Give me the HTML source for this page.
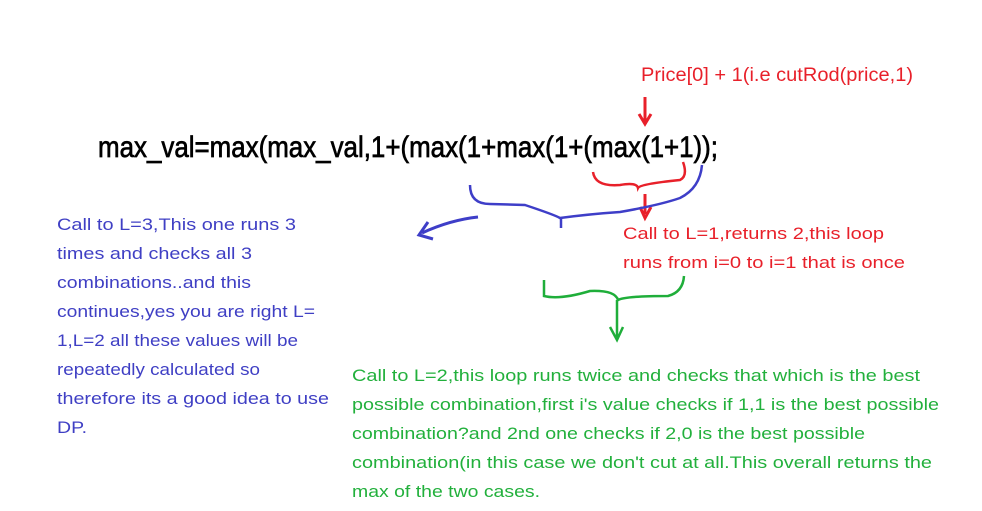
<!DOCTYPE html>
<html><head><meta charset="utf-8"><style>body{margin:0;background:#fff}svg{display:block}</style></head>
<body>
<svg width="982" height="511" viewBox="0 0 982 511" xmlns="http://www.w3.org/2000/svg" font-family="Liberation Sans, sans-serif">
<rect width="982" height="511" fill="#fff"/>
<text x="641" y="81" font-size="19" fill="#e8202a" textLength="272" lengthAdjust="spacingAndGlyphs">Price[0] + 1(i.e cutRod(price,1)</text>
<text x="98" y="157" font-size="30" fill="#000" stroke="#000" stroke-width="0.7" textLength="620" lengthAdjust="spacingAndGlyphs">max_val=max(max_val,1+(max(1+max(1+(max(1+1));</text>
<path d="M645 97 L645 122 M639 114 L645 124 L651 114" stroke="#e8202a" stroke-width="3" fill="none"/>
<path d="M593 172 Q595 187 620 185 Q637 182 638 188 Q640 184 680 180 Q688 176 683 162" stroke="#e8202a" stroke-width="2.5" fill="none"/>
<path d="M645 194 L645 214 M640 207 L645 218 L651 207" stroke="#e8202a" stroke-width="3" fill="none"/>
<path d="M470 185 Q470 204 490 204 L525 205 Q555 215 560 218 Q590 214 620 212 Q660 205 680 198 Q700 188 702 165" stroke="#3e3ec8" stroke-width="2.5" fill="none"/>
<path d="M561 218 L561 228" stroke="#3e3ec8" stroke-width="2.5"/>
<path d="M478 217 Q450 220 422 233 M428 222 L419 235 L433 239" stroke="#3e3ec8" stroke-width="3" fill="none"/>
<path d="M544 280 L544 296 Q560 300 590 291 Q615 290 618 300 Q625 296 668 296 Q683 292 684 276" stroke="#1fae3a" stroke-width="2.5" fill="none"/>
<path d="M617 300 L617 337 M610 327 L617 340 L623 327" stroke="#1fae3a" stroke-width="2.5" fill="none"/>
<g font-size="17" fill="#3f3fc4">
<text x="57" y="230" textLength="239" lengthAdjust="spacingAndGlyphs">Call to L=3,This one runs 3</text>
<text x="57" y="259" textLength="195" lengthAdjust="spacingAndGlyphs">times and checks all 3</text>
<text x="57" y="288" textLength="194" lengthAdjust="spacingAndGlyphs">combinations..and this</text>
<text x="57" y="317" textLength="258" lengthAdjust="spacingAndGlyphs">continues,yes you are right L=</text>
<text x="57" y="346" textLength="241" lengthAdjust="spacingAndGlyphs">1,L=2 all these values will be</text>
<text x="57" y="375" textLength="203" lengthAdjust="spacingAndGlyphs">repeatedly calculated so</text>
<text x="57" y="404" textLength="272" lengthAdjust="spacingAndGlyphs">therefore its a good idea to use</text>
<text x="57" y="433" textLength="30" lengthAdjust="spacingAndGlyphs">DP.</text>
</g>
<g font-size="17" fill="#e8202a">
<text x="623" y="239" textLength="261" lengthAdjust="spacingAndGlyphs">Call to L=1,returns 2,this loop</text>
<text x="623" y="268" textLength="282" lengthAdjust="spacingAndGlyphs">runs from i=0 to i=1 that is once</text>
</g>
<g font-size="17" fill="#22b03c">
<text x="352" y="381" textLength="568" lengthAdjust="spacingAndGlyphs">Call to L=2,this loop runs twice and checks that which is the best</text>
<text x="352" y="410" textLength="587" lengthAdjust="spacingAndGlyphs">possible combination,first i's value checks if 1,1 is the best possible</text>
<text x="352" y="439" textLength="513" lengthAdjust="spacingAndGlyphs">combination?and 2nd one checks if 2,0 is the best possible</text>
<text x="352" y="468" textLength="580" lengthAdjust="spacingAndGlyphs">combination(in this case we don't cut at all.This overall returns the</text>
<text x="352" y="497" textLength="188" lengthAdjust="spacingAndGlyphs">max of the two cases.</text>
</g>
</svg>
</body></html>
